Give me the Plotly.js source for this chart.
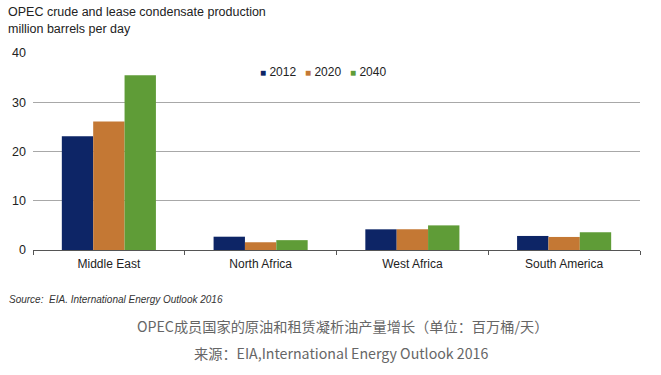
<!DOCTYPE html>
<html>
<head>
<meta charset="utf-8">
<script src="https://cdn.plot.ly/plotly-3.0.1.min.js"></script>
<style>html,body{margin:0;padding:0;background:#fff;}#chart{width:661px;height:375px;}</style>
</head>
<body>
<div id="chart"></div>
<script>
const regions = ["Middle East", "North Africa", "West Africa", "South America"];
const years = ["2012", "2020", "2040"];
const v2012 = [23.1, 2.7, 4.2, 2.85];
const v2020 = [26.1, 1.55, 4.2, 2.65];
const v2040 = [35.5, 2.0, 5.0, 3.6];
const colors = ["#0d2566", "#c47834", "#5f9c37"];
const yTicks = [0, 10, 20, 30, 40];

const series = [v2012, v2020, v2040];
const traces = series.map((vals, i) => ({
  type: "bar",
  name: years[i],
  x: regions,
  y: vals,
  marker: {color: colors[i], line: {width: 0}},
  showlegend: false,
  hoverinfo: "x+y+name"
}));

const PL = 33, PW = 607, PB = 250, PH = 197;
const px = x => (x - PL) / PW;
const py = y => (PB - y) / PH;

// compact legend: colored square key followed by the year
const legendKeyX = [258, 303, 348];
const legendAnn = years.map((yr, i) => ({
  text: "<span style='color:" + colors[i] + ";font-size:10px'>■</span> " + yr,
  xref: "paper", yref: "paper", x: px(legendKeyX[i]), y: py(72),
  xanchor: "left", yanchor: "middle", showarrow: false,
  font: {size: 12, color: "#222"}
}));

const layout = {
  width: 661, height: 375,
  margin: {l: PL, r: 661 - PL - PW, t: 53, b: 375 - PB},
  paper_bgcolor: "#ffffff", plot_bgcolor: "#ffffff",
  barmode: "group", bargap: 0.38, bargroupgap: 0,
  showlegend: false,
  font: {family: "Liberation Sans, Arial, sans-serif", size: 12, color: "#222"},
  xaxis: {
    type: "category",
    showline: true, linecolor: "#555", linewidth: 1,
    ticks: "outside", tickson: "boundaries", ticklen: 4, tickcolor: "#555",
    tickfont: {size: 12, color: "#222"}, ticklabelstandoff: 3,
    showgrid: false, zeroline: false, fixedrange: true
  },
  yaxis: {
    range: [0, 40], tickvals: yTicks, ticktext: yTicks.map(String),
    showgrid: true, gridcolor: "#a8a8a8", gridwidth: 1,
    showline: false, zeroline: false, ticks: "",
    tickfont: {size: 12.5, color: "#222"}, ticklabelstandoff: 6,
    fixedrange: true
  },
  annotations: legendAnn.concat([
    {text: "OPEC crude and lease condensate production", xref: "paper", yref: "paper",
     x: px(6), y: py(12), xanchor: "left", yanchor: "middle", showarrow: false,
     font: {size: 12.5, color: "#222"}},
    {text: "million barrels per day", xref: "paper", yref: "paper",
     x: px(6), y: py(29), xanchor: "left", yanchor: "middle", showarrow: false,
     font: {size: 12.5, color: "#222"}},
    {text: "<i>Source:  EIA. International Energy Outlook 2016</i>", xref: "paper", yref: "paper",
     x: px(7), y: py(299), xanchor: "left", yanchor: "middle", showarrow: false,
     font: {size: 10, color: "#333"}},
    {text: "OPEC成员国家的原油和租赁凝析油产量增长（单位：百万桶/天）", xref: "paper", yref: "paper",
     x: px(342), y: py(326), xanchor: "center", yanchor: "middle", showarrow: false,
     font: {family: "Noto Sans CJK SC, sans-serif", size: 14.2, color: "#666"}},
    {text: "来源：EIA,International Energy Outlook 2016", xref: "paper", yref: "paper",
     x: px(341), y: py(353), xanchor: "center", yanchor: "middle", showarrow: false,
     font: {family: "Noto Sans CJK SC, sans-serif", size: 14.2, color: "#666"}}
  ])
};

Plotly.newPlot("chart", traces, layout, {displayModeBar: false, staticPlot: true});
</script>
</body>
</html>
